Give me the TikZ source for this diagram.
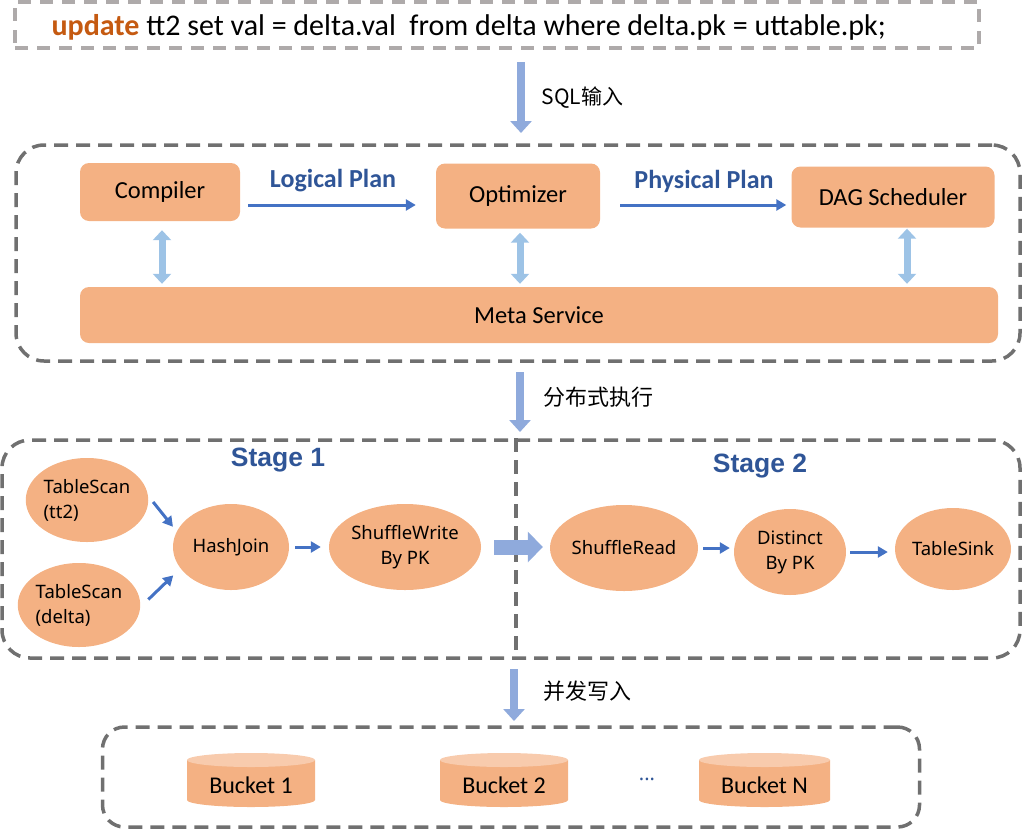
\documentclass[tikz,border=0pt]{standalone}
\usepackage{fontspec}
\setmainfont{Noto Sans}
\newfontfamily\calfont{Carlito}
\newfontfamily\cjkfont{Noto Sans CJK SC}
\newfontfamily\stagefont{Liberation Sans}
\usetikzlibrary{arrows.meta,shapes.geometric}
\definecolor{boxfill}{HTML}{F4B183}
\definecolor{cyltop}{HTML}{F8CBAD}
\definecolor{dgray}{HTML}{707070}
\definecolor{lgray}{HTML}{AEAAAA}
\definecolor{darrow}{HTML}{8FAADC}
\definecolor{marrow}{HTML}{9DC3E6}
\definecolor{barrow}{HTML}{4472C4}
\definecolor{blabel}{HTML}{2F5597}
\definecolor{upd}{HTML}{C55A11}
\newcommand\mybucket[4]{%
  \fill[boxfill] (#2,760) -- (#2,800) arc[start angle=180,end angle=0,x radius={(#3-#2)/2},y radius=7] -- (#3,760) -- cycle;
  \fill[cyltop] ({(#2+#3)/2},760) ellipse[x radius={(#3-#2)/2},y radius=7];
  \node[buckettext] (#1) at ({(#2+#3)/2},785) {#4};
}
\begin{document}
\begin{tikzpicture}[x=1pt,y=-1pt,
  dashbox/.style={draw=dgray,line width=3.5pt,dash pattern=on 14pt off 8pt,rounded corners=28pt},
  topbox/.style={draw=lgray,line width=3.5pt,dash pattern=on 13pt off 9pt},
  rbox/.style={fill=boxfill,rounded corners=9pt,inner sep=0pt,font=\calfont\fontsize{24.5}{28}\selectfont},
  ell/.style={ellipse,fill=boxfill,inner sep=0pt,font=\fontsize{18.5}{25}\selectfont},
  buckettext/.style={font=\calfont\fontsize{24}{28}\selectfont},
  downarr/.style={draw=darrow,line width=8pt,-{Triangle[length=12pt,width=21pt]}},
  dblarr/.style={draw=marrow,line width=7pt,{Triangle[length=10pt,width=18pt]}-{Triangle[length=10pt,width=18pt]}},
  blarr/.style={draw=barrow,line width=3pt,-{Triangle[length=10pt,width=11pt]}},
  planlabel/.style={text=blabel,font=\calfont\bfseries\fontsize{26}{30}\selectfont},
  stagelabel/.style={text=blabel,font=\stagefont\bfseries\fontsize{26.5}{30}\selectfont},
  cjklabel/.style={anchor=west,font=\cjkfont\fontsize{21}{25}\selectfont}]
\useasboundingbox (0,0) rectangle (1024,830);
% top SQL box
\node[topbox,minimum width=964pt,minimum height=46pt,inner sep=0pt] (sqlbox) at (497,25) {};
\node[anchor=west,font=\calfont\fontsize{30}{34}\selectfont] (sql) at (48,27) {\textcolor{upd}{\bfseries update} tt2 set val = delta.val\ \ from delta where delta.pk = uttable.pk;};
% arrow 1
\coordinate (a1s) at (521,62);
\coordinate (a1e) at (521,133);
\draw[downarr] (a1s) -- (a1e);
\node[cjklabel] (l1) at (538,98) {SQL输入};
% compile box
\node[dashbox,minimum width=1004pt,minimum height=216pt] (cbox) at (518,253) {};
\node[rbox,minimum width=160pt,minimum height=58pt] (compiler) at (160,192) {Compiler};
\node[rbox,minimum width=164pt,minimum height=65pt] (optimizer) at (518,196) {Optimizer};
\node[rbox,minimum width=203pt,minimum height=61pt] (dag) at (893,197) {DAG Scheduler};
\node[rbox,minimum width=918pt,minimum height=56pt] (meta) at (539,315) {Meta Service};
\coordinate (lpy) at (0,205);
\draw[blarr,shorten <=8pt,shorten >=20pt] (compiler.east |- lpy) -- (optimizer.west |- lpy);
\node[planlabel] (lp) at (333,181) {Logical Plan};
\draw[blarr,shorten <=20pt,shorten >=5pt] (optimizer.east |- lpy) -- (dag.west |- lpy);
\node[planlabel] (pp) at (704,181) {Physical Plan};
\draw[dblarr,shorten <=9pt,shorten >=3pt] ([xshift=2pt]compiler.south) -- ([xshift=2pt]compiler.south |- meta.north);
\draw[dblarr,shorten <=4pt,shorten >=3pt] ([xshift=2pt]optimizer.south) -- ([xshift=2pt]optimizer.south |- meta.north);
\draw[dblarr,shorten <=1pt,shorten >=3pt] ([xshift=14pt]dag.south) -- ([xshift=14pt]dag.south |- meta.north);
% arrow 2
\coordinate (a2s) at (520,372);
\coordinate (a2e) at (520,432);
\draw[downarr] (a2s) -- (a2e);
\node[cjklabel,font=\cjkfont\fontsize{22}{26}\selectfont] (l2) at (540,397) {分布式执行};
% stage box
\node[dashbox,minimum width=1018pt,minimum height=218pt] (sbox) at (511,549) {};
\coordinate (divx) at (516,0);
\draw[draw=dgray,line width=3.5pt,dash pattern=on 14pt off 8pt] (sbox.north -| divx) -- (sbox.south -| divx);
\node[stagelabel] (st1) at (278,460) {Stage 1};
\node[stagelabel] (st2) at (760,466) {Stage 2};
\node[ell,minimum width=118pt,minimum height=84pt,align=left] (tt2) at (87,500) {TableScan\\(tt2)\hphantom{Scan}};
\node[ell,minimum width=118pt,minimum height=84pt,align=left] (delta) at (79,605) {TableScan\\(delta)\hphantom{an}};
\node[ell,minimum width=116pt,minimum height=86pt] (hj) at (231,547) {HashJoin};
\node[ell,minimum width=124pt,minimum height=86pt,align=center] (sw) at (405,547) {ShuffleWrite\\By PK};
\node[ell,minimum width=124pt,minimum height=86pt] (sr) at (624,548) {ShuffleRead};
\node[ell,minimum width=112pt,minimum height=86pt,align=center] (dist) at (790,552) {Distinct\\By PK};
\node[ell,minimum width=112pt,minimum height=82pt] (sink) at (953,549) {TableSink};
\draw[blarr,shorten <=8pt,shorten >=6pt] (tt2.4) -- (hj.164);
\draw[blarr,shorten <=11pt,shorten >=10pt] (delta.358) -- (hj.203);
\draw[blarr,shorten <=6pt,shorten >=8pt] (hj.east) -- (sw.west);
\draw[draw=darrow,line width=15pt,-{Triangle[length=15pt,width=30pt]},shorten <=13pt,shorten >=7pt] (sw.east) -- (sw.east -| sr.west);
\draw[blarr,shorten <=5pt,shorten >=4pt] (sr.east) -- (sr.east -| dist.west);
\draw[blarr,shorten <=4pt,shorten >=7pt] (dist.east) -- (dist.east -| sink.west);
% arrow 3
\coordinate (a3s) at (514,669);
\coordinate (a3e) at (514,721);
\draw[downarr] (a3s) -- (a3e);
\node[cjklabel,font=\cjkfont\fontsize{22}{26}\selectfont] (l3) at (540,691) {并发写入};
% bucket box
\node[dashbox,rounded corners=22pt,minimum width=817pt,minimum height=100pt] (bbox) at (511,777) {};
\mybucket{b1}{187}{315}{Bucket 1}
\mybucket{b2}{440}{568}{Bucket 2}
\mybucket{bn}{699}{830}{Bucket N}
\node[text=blabel,font=\fontsize{20}{22}\selectfont] (dots) at (647,779) {...};
\end{tikzpicture}
\end{document}
